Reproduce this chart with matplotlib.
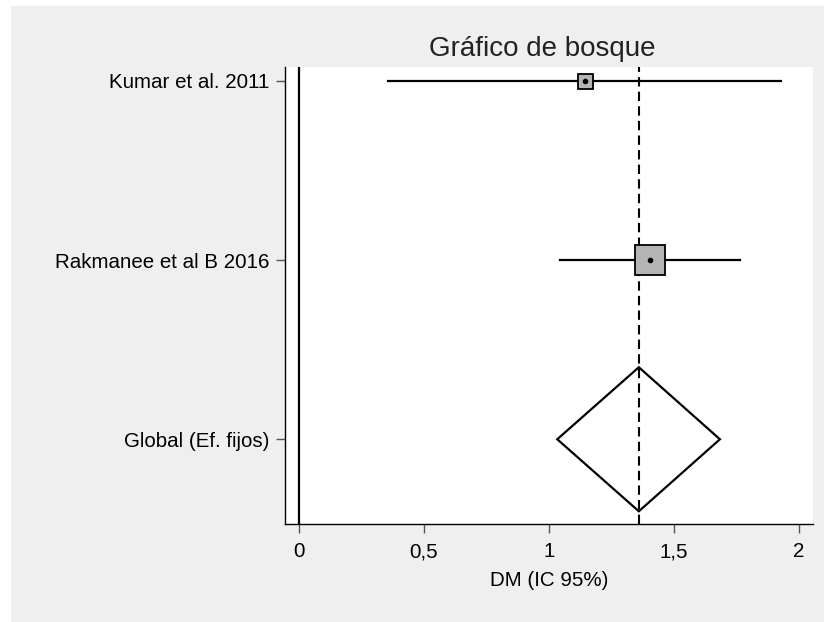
import matplotlib.pyplot as plt
from matplotlib.patches import Rectangle, Polygon
from matplotlib.ticker import FuncFormatter

plt.rcParams['font.family'] = ['Liberation Sans', 'DejaVu Sans']

# datos del grafico de bosque
estudios = ['Kumar et al. 2011', 'Rakmanee et al B 2016']
dm = [1.145, 1.405]
ic_inf = [0.359, 1.045]
ic_sup = [1.928, 1.764]
peso_lado = [10.8, 21.6]   # lado del cuadrado (pt), segun peso

global_lbl = 'Global (Ef. fijos)'
global_dm = 1.36
global_inf = 1.034
global_sup = 1.684

xticks = [0, 0.5, 1, 1.5, 2]

fig = plt.figure(figsize=(8.24, 6.22), dpi=100, facecolor='white')
fig.patches.append(Rectangle((11 / 824, 0), 1, 1 - 6 / 622,
                             transform=fig.transFigure, facecolor='#efefef',
                             edgecolor='none', zorder=-10))
ax = fig.add_axes([285 / 824, 1 - 524 / 622, (813 - 285) / 824, (524 - 67) / 622])
ax.set_facecolor('white')

ypos = [3, 2]
for y, m, lo, hi, s in zip(ypos, dm, ic_inf, ic_sup, peso_lado):
    ax.plot([lo, hi], [y, y], color='black', lw=1.6, zorder=3)
    ax.plot(m, y, marker='s', ms=s, mfc='#b4b4b4', mec='black', mew=1.3, zorder=4)
    ax.plot(m, y, marker='o', ms=3.0, color='black', zorder=5)

# rombo global
yg = 1
rombo = Polygon([[global_inf, yg], [global_dm, yg + 0.402],
                 [global_sup, yg], [global_dm, yg - 0.402]],
                closed=True, facecolor='none', edgecolor='black', lw=1.6, zorder=3)
ax.add_patch(rombo)

ax.axvline(0, color='black', lw=1.6, zorder=2)
ax.axvline(global_dm, color='black', lw=1.5, ls=(0, (4.5, 2.5)), zorder=2)

ax.set_xlim(-0.054, 2.056)
ax.set_ylim(0.527, 3.078)
ax.set_yticks([3, 2, 1])
ax.set_yticklabels(estudios + [global_lbl])
ax.set_xticks(xticks)
ax.xaxis.set_major_formatter(FuncFormatter(lambda v, p: ('%g' % v).replace('.', ',')))

for s in ['top', 'right']:
    ax.spines[s].set_visible(False)
for s in ['left', 'bottom']:
    ax.spines[s].set_linewidth(1.0)
ax.tick_params(axis='both', length=6.5, width=1.0, color='#555555',
               labelsize=14.8)
ax.tick_params(axis='x', pad=6.5)
ax.tick_params(axis='y', pad=5)

ax.set_xlabel('DM (IC 95%)', fontsize=14.8, labelpad=7)
ax.set_title('Gráfico de bosque', fontsize=20, pad=8, color='#222222', x=0.488)

fig.savefig('out.png', dpi=100, facecolor=fig.get_facecolor())
